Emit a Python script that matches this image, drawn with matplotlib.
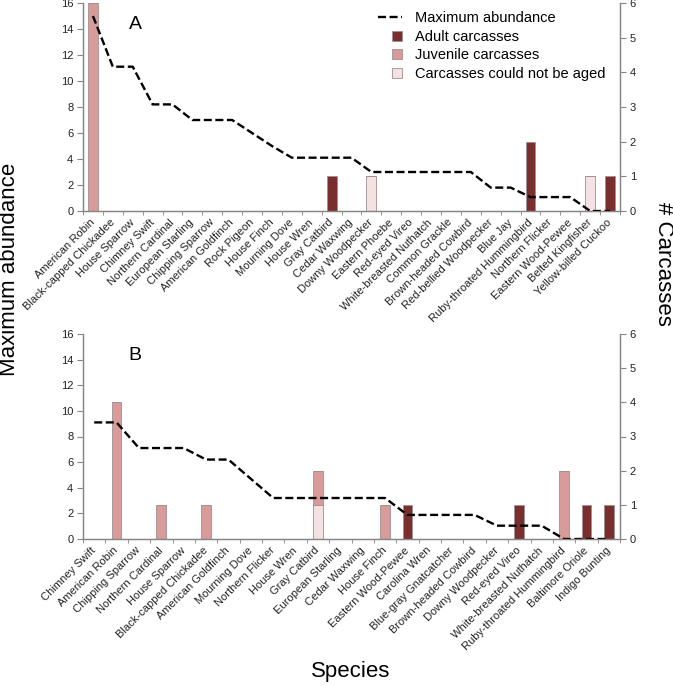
import matplotlib.pyplot as plt
from matplotlib.patches import Rectangle, Patch
from matplotlib.lines import Line2D
from matplotlib.legend_handler import HandlerPatch
import numpy as np

plt.rcParams['font.family'] = ['Liberation Sans', 'DejaVu Sans']

# Panel A: species ranked by maximum abundance
species_a = ['American Robin', 'Black-capped Chickadee', 'House Sparrow',
             'Chimney Swift', 'Northern Cardinal', 'European Starling',
             'Chipping Sparrow', 'American Goldfinch', 'Rock Pigeon',
             'House Finch', 'Mourning Dove', 'House Wren', 'Gray Catbird',
             'Cedar Waxwing', 'Downy Woodpecker', 'Eastern Phoebe',
             'Red-eyed Vireo', 'White-breasted Nuthatch', 'Common Grackle',
             'Brown-headed Cowbird', 'Red-bellied Woodpecker', 'Blue Jay',
             'Ruby-throated Hummingbird', 'Northern Flicker',
             'Eastern Wood-Pewee', 'Belted Kingfisher', 'Yellow-billed Cuckoo']
max_a = [15.0, 11.1, 11.1, 8.2, 8.2, 7.0, 7.0, 7.0, 6.0, 5.0, 4.1, 4.1,
         4.1, 4.1, 3.0, 3.0, 3.0, 3.0, 3.0, 3.0, 1.8, 1.8, 1.07, 1.07,
         1.07, 0.0, 0.0]
adult_a = [0, 0, 0, 0, 0, 0, 0, 0, 0, 0, 0, 0, 1, 0, 0, 0, 0, 0, 0, 0,
           0, 0, 2, 0, 0, 0, 1]
juv_a = [6, 0, 0, 0, 0, 0, 0, 0, 0, 0, 0, 0, 0, 0, 0, 0, 0, 0, 0, 0,
         0, 0, 0, 0, 0, 0, 0]
unaged_a = [0, 0, 0, 0, 0, 0, 0, 0, 0, 0, 0, 0, 0, 0, 1, 0, 0, 0, 0, 0,
            0, 0, 0, 0, 0, 1, 0]

# Panel B
species_b = ['Chimney Swift', 'American Robin', 'Chipping Sparrow',
             'Northern Cardinal', 'House Sparrow', 'Black-capped Chickadee',
             'American Goldfinch', 'Mourning Dove', 'Northern Flicker',
             'House Wren', 'Gray Catbird', 'European Starling',
             'Cedar Waxwing', 'House Finch', 'Eastern Wood-Pewee',
             'Carolina Wren', 'Blue-gray Gnatcatcher', 'Brown-headed Cowbird',
             'Downy Woodpecker', 'Red-eyed Vireo', 'White-breasted Nuthatch',
             'Ruby-throated Hummingbird', 'Baltimore Oriole', 'Indigo Bunting']
max_b = [9.1, 9.1, 7.1, 7.1, 7.1, 6.2, 6.2, 4.7, 3.2, 3.2, 3.2, 3.2, 3.2,
         3.2, 1.88, 1.88, 1.88, 1.88, 1.04, 1.04, 1.04, 0.0, 0.0, 0.0]
adult_b = [0, 0, 0, 0, 0, 0, 0, 0, 0, 0, 0, 0, 0, 0, 1, 0, 0, 0, 0, 1,
           0, 0, 1, 1]
juv_b = [0, 4, 0, 1, 0, 1, 0, 0, 0, 0, 1, 0, 0, 1, 0, 0, 0, 0, 0, 0,
         0, 2, 0, 0]
unaged_b = [0, 0, 0, 0, 0, 0, 0, 0, 0, 0, 1, 0, 0, 0, 0, 0, 0, 0, 0, 0,
            0, 0, 0, 0]

ADULT = '#7a2f2f'
JUV = '#d99b99'
UNAGED = '#f3e2e1'
EDGE = '#a09090'
AXIS = '#868686'
TICK_FS = 8


def draw_panel(ax, names, maxab, adult, juv, unaged, letter, width):
    x = np.arange(len(names))
    ax2 = ax.twinx()
    # bars on the carcass axis, stacked: unaged, juvenile, adult
    unaged = np.array(unaged)
    juv = np.array(juv)
    ax2.bar(x, unaged, width, color=UNAGED, edgecolor=EDGE, linewidth=0.6)
    ax2.bar(x, juv, width, bottom=unaged, color=JUV, edgecolor=EDGE,
            linewidth=0.6)
    ax2.bar(x, adult, width, bottom=unaged + juv, color=ADULT,
            edgecolor=EDGE, linewidth=0.6)
    ax.plot(x, maxab, color='black', lw=1.7, ls=(0, (3.4, 1.5)))
    ax.set_zorder(ax2.get_zorder() + 1)
    ax.patch.set_visible(False)

    ax.set_xlim(-0.5, len(names) - 0.5)
    ax.set_ylim(0, 16)
    ax.set_yticks(range(0, 17, 2))
    ax2.set_ylim(0, 6)
    ax2.set_yticks(range(0, 7))

    ax.set_xticks(x)
    ax.set_xticklabels(names, rotation=45, ha='right', va='center',
                       rotation_mode='anchor', fontsize=TICK_FS,
                       color='#222222')
    ax.set_xticks(np.arange(-0.5, len(names), 1), minor=True)
    ax.tick_params(axis='x', which='major', length=0, pad=7)
    ax.tick_params(axis='x', which='minor', length=3, color=AXIS)
    ax.tick_params(axis='y', length=4, color=AXIS, labelsize=TICK_FS,
                   labelcolor='#222222', pad=3)
    ax2.tick_params(axis='y', length=4, color=AXIS, labelsize=TICK_FS,
                    labelcolor='#222222', pad=3)
    for a in (ax, ax2):
        a.spines['top'].set_visible(False)
        for s in ('left', 'right', 'bottom'):
            a.spines[s].set_color(AXIS)
            a.spines[s].set_linewidth(0.9)
    ax.text(0.097, 0.895, letter, transform=ax.transAxes, fontsize=14,
            ha='center', va='center')
    return ax2


def square_patch(legend, orig_handle, xdescent, ydescent, width, height,
                 fontsize):
    s = 7.2
    return Rectangle((-xdescent + width - s, -ydescent + (height - s) / 2),
                     s, s)


fig = plt.figure(figsize=(6.73, 6.86), dpi=100)
W, H = 673, 686
ax_a = fig.add_axes([83 / W, 1 - 211 / H, 537 / W, 208 / H])
ax_b = fig.add_axes([83 / W, 1 - 539 / H, 537 / W, 205 / H])

draw_panel(ax_a, species_a, max_a, adult_a, juv_a, unaged_a, 'A', 0.5)
draw_panel(ax_b, species_b, max_b, adult_b, juv_b, unaged_b, 'B', 0.44)

handles = [Line2D([], [], color='black', lw=1.7, ls=(0, (3.4, 1.5))),
           Patch(facecolor=ADULT, edgecolor=EDGE, linewidth=0.6),
           Patch(facecolor=JUV, edgecolor=EDGE, linewidth=0.6),
           Patch(facecolor=UNAGED, edgecolor=EDGE, linewidth=0.6)]
labels = ['Maximum abundance', 'Adult carcasses', 'Juvenile carcasses',
          'Carcasses could not be aged']
fig.legend(handles, labels, loc='upper left',
           bbox_to_anchor=(378 / W, 1 - 11 / H), frameon=False,
           fontsize=10.5, handlelength=1.65, handletextpad=0.9,
           labelspacing=0.32, borderpad=0, borderaxespad=0,
           handler_map={Patch: HandlerPatch(patch_func=square_patch)})

fig.text(10 / W, 1 - 269 / H, 'Maximum abundance', rotation=90,
         fontsize=16, ha='center', va='center')
fig.text(663 / W, 1 - 264 / H, '# Carcasses', rotation=270,
         fontsize=16, ha='center', va='center')
fig.text(351 / W, 1 - 672 / H, 'Species', fontsize=16,
         ha='center', va='center')

fig.savefig('out.png', dpi=100)
